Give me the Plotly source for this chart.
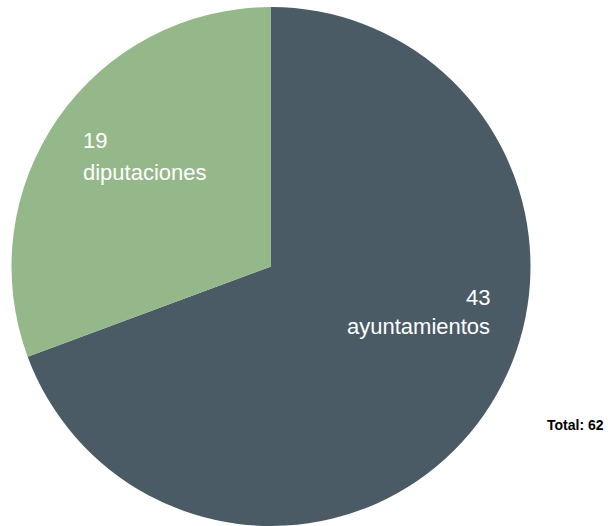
import plotly.graph_objects as go

# Pie data
labels = ['ayuntamientos', 'diputaciones']
values = [43, 19]
colors = ['#4a5b66', '#95b88a']
total = sum(values)

W, H = 608, 526

fig = go.Figure(data=[go.Pie(labels=labels, values=values,
                             marker=dict(colors=colors, line=dict(width=0)),
                             sort=False, direction='clockwise', rotation=0,
                             textinfo='none', hoverinfo='label+value',
                             domain=dict(x=[11 / W, 531 / W], y=[0.0, 1 - 7 / H]))])

font = dict(family='Liberation Sans, Arial', size=22, color='white')

# slice labels: value on one line, name under it
# (x, y of value line, y of name line, anchor) in pixels
label_pos = {'ayuntamientos': (492, 297, 326, 'right'),
             'diputaciones': (81, 140, 172, 'left')}
for lab, val in zip(labels, values):
    x, y1, y2, anc = label_pos[lab]
    fig.add_annotation(x=x / W, y=1 - y1 / H, xref='paper', yref='paper', text=str(val),
                       showarrow=False, xanchor=anc, yanchor='middle', font=font)
    fig.add_annotation(x=x / W, y=1 - y2 / H, xref='paper', yref='paper', text=lab,
                       showarrow=False, xanchor=anc, yanchor='middle', font=font)

fig.add_annotation(x=606 / W, y=1 - 425 / H, xref='paper', yref='paper',
                   text='<b>Total: ' + str(total) + '</b>',
                   showarrow=False, xanchor='right', yanchor='middle',
                   font=dict(family='Liberation Sans, Arial', size=14, color='black'))

fig.update_layout(width=W, height=H, margin=dict(l=0, r=0, t=0, b=0),
                  showlegend=False, paper_bgcolor='white', plot_bgcolor='white')
fig.write_html("out.html", config={'displayModeBar': False},
               post_script="document.body.style.margin='0';")
